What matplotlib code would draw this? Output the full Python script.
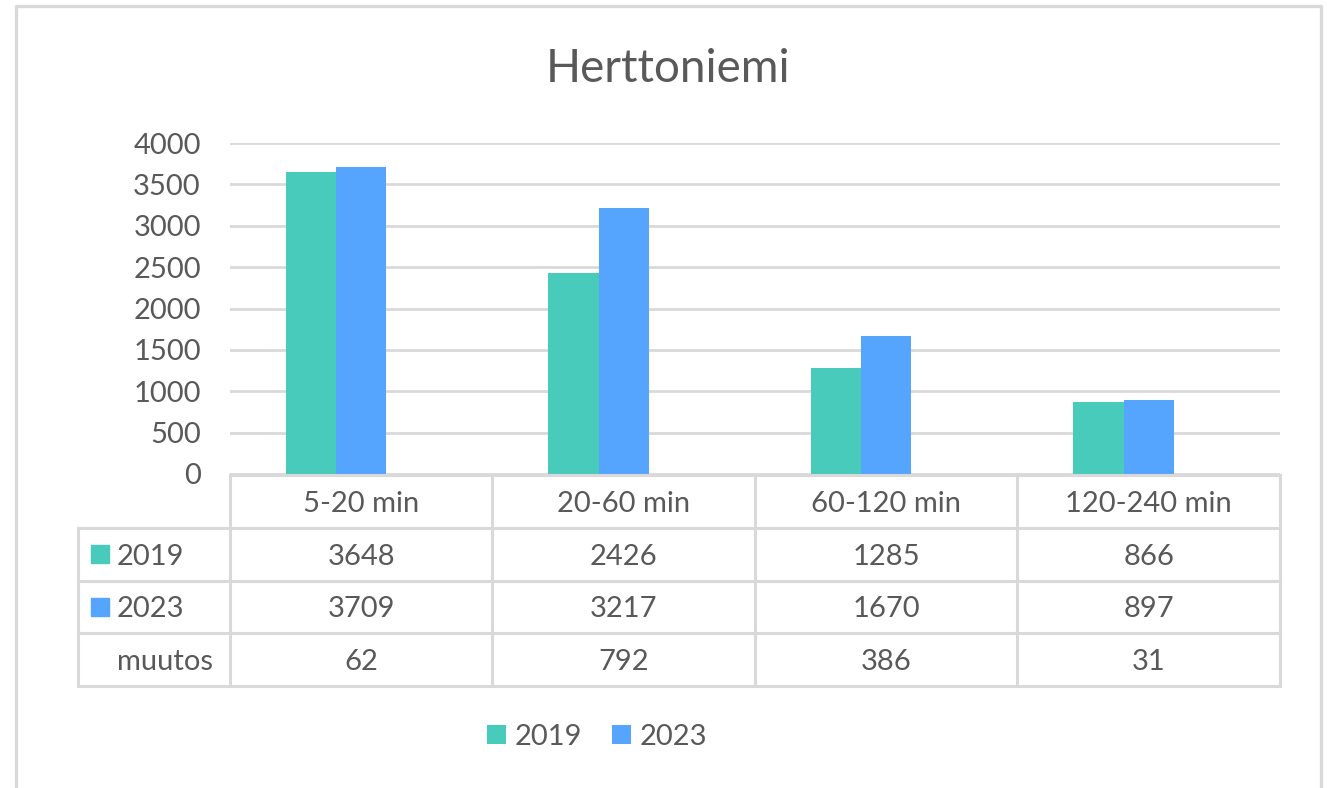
# -*- coding: utf-8 -*-
"""
Herttoniemi: 2019 vs 2023 pysäköintiajat, pylväät + datataulukko
"""

import matplotlib.pyplot as plt
from matplotlib.patches import Rectangle
from matplotlib.lines import Line2D
import numpy as np

# data
categories = ['5-20 min', '20-60 min', '60-120 min', '120-240 min']
years = ['2019', '2023']
values_2019 = [3648, 2426, 1285, 866]
values_2023 = [3709, 3217, 1670, 897]
muutos = [62, 792, 386, 31]
title = 'Herttoniemi'

COLORS = {'2019': '#48CBBB', '2023': '#55A4FE'}
TEXT = '#595959'
GRID = '#D9D9D9'
FS = 21

plt.rcParams['font.family'] = ['Lato', 'DejaVu Sans']

W, H = 1327, 788
fig = plt.figure(figsize=(W / 100, H / 100), dpi=100)


def px_box(x0, y0, x1, y1):
    # pikselilaatikko -> figure-koordinaatit
    return [x0 / W, 1 - y1 / H, (x1 - x0) / W, (y1 - y0) / H]


# ulkoreunus (ei alareunaa)
fig.add_artist(Line2D([15.5 / W, 15.5 / W, 1320.5 / W, 1320.5 / W],
                      [0, 1 - 5.5 / H, 1 - 5.5 / H, 0],
                      transform=fig.transFigure, color=GRID, lw=2.4))

# pylväskaavio (kolmas sarja "muutos" on Excelissä näkymätön, siksi ryhmä vasemmalla)
ax = fig.add_axes(px_box(230, 143, 1280, 474))
x = np.arange(len(categories))
bw = 0.192
ax.bar(x - bw, values_2019, bw, color=COLORS['2019'], label='2019', zorder=3)
ax.bar(x, values_2023, bw, color=COLORS['2023'], label='2023', zorder=3)
ax.set_xlim(-0.5, len(categories) - 0.5)
ax.set_ylim(0, 4000)
ax.set_yticks(np.arange(0, 4001, 500))
ax.yaxis.grid(True, color=GRID, lw=2.0)
ax.set_axisbelow(True)
ax.set_xticks([])
for s in ax.spines.values():
    s.set_visible(False)
ax.tick_params(axis='y', length=0, pad=21, labelsize=FS, labelcolor=TEXT)

# datataulukko
tax = fig.add_axes(px_box(78, 475, 1280, 686))
left = -0.5 - 152 / 262.5
tax.set_xlim(left, len(categories) - 0.5)
tax.set_ylim(4, 0)
tax.axis('off')
lkw = dict(color=GRID, lw=2.2, solid_capstyle='projecting', clip_on=False)
tax.plot([-0.5, len(categories) - 0.5], [0, 0], **lkw)
for r in range(1, 5):
    tax.plot([left, len(categories) - 0.5], [r, r], **lkw)
for c in range(len(categories) + 1):
    tax.plot([c - 0.5, c - 0.5], [0, 4], **lkw)
tax.plot([left, left], [1, 4], **lkw)

tkw = dict(ha='center', va='center_baseline', fontsize=FS, color=TEXT)
rows = [categories, values_2019, values_2023, muutos]
for r, row in enumerate(rows):
    for c, val in enumerate(row):
        tax.text(c, r + 0.5, str(val), **tkw)

lab_x = left + (117 - 78) / 262.5
sq = 18 / 262.5
for r, name in zip([1, 2], years):
    tax.add_patch(Rectangle((left + (91 - 78) / 262.5, r + 0.5 - 0.17), sq, 0.34,
                            color=COLORS[name], clip_on=False))
    tax.text(lab_x, r + 0.5, name, ha='left', va='center_baseline', fontsize=FS, color=TEXT)
tax.text(lab_x, 3.5, 'muutos', ha='left', va='center_baseline', fontsize=FS, color=TEXT)

# otsikko
fig.text(668 / W, 1 - 82 / H, title, ha='center', va='baseline', fontsize=33, color=TEXT)

# selite
fig.legend(loc='center', bbox_to_anchor=(597 / W, 1 - 737 / H), ncol=2, frameon=False,
           fontsize=FS, labelcolor=TEXT, handlelength=0.65, handleheight=0.65,
           handletextpad=0.3, columnspacing=1.0)

fig.savefig('out.png', dpi=100, facecolor='white')
